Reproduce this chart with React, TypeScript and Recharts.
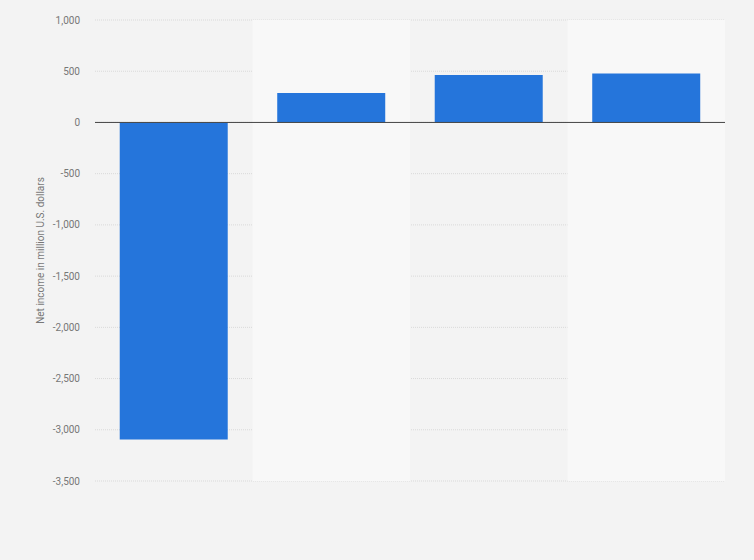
import { BarChart, Bar, XAxis, YAxis, CartesianGrid, ReferenceArea, ReferenceLine } from "recharts";

const categories = ["A", "B", "C", "D"];
const netIncome = [-3095, 287, 463, 478];
const yTicks = [1000, 500, 0, -500, -1000, -1500, -2000, -2500, -3000, -3500];

const data = categories.map((name, i) => ({ name, value: netIncome[i] }));

export default function App() {
  return (
    <div
      style={{
        position: "absolute",
        left: 0,
        top: 0,
        width: 754,
        height: 560,
        background: "#f3f3f3",
        fontFamily: "Roboto, Arial, sans-serif",
      }}
    >
      <BarChart
        width={754}
        height={560}
        data={data}
        margin={{ top: 20, right: 29, bottom: 79, left: 10 }}
        barCategoryGap="15.7%"
      >
        {categories.map((c, i) =>
          i % 2 === 1 ? (
            <ReferenceArea
              key={c}
              x1={c}
              x2={c}
              y1={-3500}
              y2={1000}
              fill="#f8f8f8"
              fillOpacity={1}
              stroke="none"
            />
          ) : null
        )}
        <CartesianGrid vertical={false} stroke="#d9d9d9" strokeDasharray="1 1" />
        <XAxis dataKey="name" hide />
        <YAxis
          width={85}
          domain={[-3500, 1000]}
          ticks={yTicks}
          interval={0}
          axisLine={false}
          tickLine={false}
          tickSize={0}
          tickMargin={15}
          tick={{ fill: "#777", fontSize: 10 }}
          tickFormatter={(v: number) => v.toLocaleString("en-US")}
          label={{
            value: "Net income in million U.S. dollars",
            angle: -90,
            position: "insideLeft",
            offset: 30,
            style: { textAnchor: "middle", fill: "#777", fontSize: 10 },
          }}
        />
        <Bar dataKey="value" fill="#2575db" isAnimationActive={false} />
        <ReferenceLine y={0} stroke="#444" strokeWidth={1} />
      </BarChart>
    </div>
  );
}
